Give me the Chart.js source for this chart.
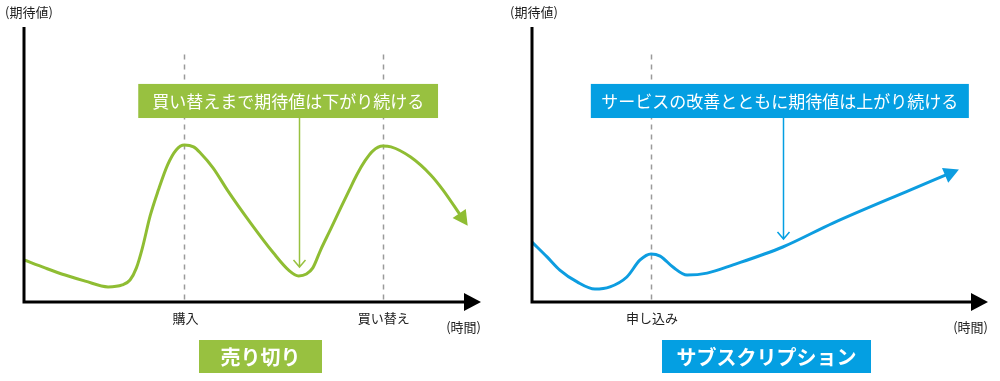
<!DOCTYPE html>
<html><head><meta charset="utf-8">
<script src="https://cdn.jsdelivr.net/npm/chart.js@4"></script>
<style>
html,body{margin:0;padding:0;background:#fff;width:1000px;height:381px;overflow:hidden}
.w{position:absolute;top:0;width:500px;height:381px}
</style></head><body>
<div class="w" style="left:0"><canvas id="c1" width="500" height="381"></canvas></div>
<div class="w" style="left:500px"><canvas id="c2" width="500" height="381"></canvas></div>
<script>
// 売り切り (left) curve
const sellX = [0, 4.6, 9.0, 13.4, 18.4, 21.5, 23.2, 24.6, 25.9, 27.6, 29.4, 31.4, 33.3, 35.1, 37.1, 38.6, 41.4, 44.5, 49.6, 54.6, 57.9, 60.1, 61.8, 63.2, 64.9, 67.1, 69.3, 71.1, 72.8, 74.6, 76.3, 78.5, 80.3, 84.6, 89.0, 91.7, 95.6];
const sellY = [15.3, 12.4, 9.8, 7.6, 5.5, 6.2, 8.0, 12.4, 19.6, 31.3, 40.7, 49.8, 55.3, 57.1, 56.4, 54.2, 48.7, 40.7, 28.7, 17.8, 11.6, 9.5, 10.2, 12.4, 18.9, 26.5, 34.2, 40.4, 46.2, 51.3, 54.9, 56.7, 56.4, 52.7, 46.2, 40.7, 31.3];
const sellTicks = [35.1, 78.5];
const sellTickLabels = ['購入', '買い替え'];
// サブスクリプション (right) curve
const subX = [0, 3.3, 6.1, 9.9, 13.8, 17.1, 20.8, 23.7, 26.1, 28.1, 30.9, 34.0, 38.4, 44.1, 55.0, 66.0, 82.9, 91.2];
const subY = [21.8, 16.4, 11.6, 7.3, 4.7, 5.5, 9.1, 15.3, 17.5, 16.7, 12.7, 9.8, 10.5, 13.5, 20.0, 28.7, 40.7, 46.5];
const subTicks = [26.1];
const subTickLabels = ['申し込み'];

const FONT = "'Noto Sans CJK JP', 'Noto Sans', sans-serif";

function decor(cfg) {
  return {
    id: 'decor',
    beforeDatasetsDraw(chart) {
      const {ctx, chartArea: a, scales: {x, y}} = chart;
      ctx.save();
      ctx.strokeStyle = '#9a9a9a';
      ctx.lineWidth = 1.5;
      ctx.setLineDash([5, 5]);
      cfg.ticks.forEach(t => {
        const px = Math.round(x.getPixelForValue(t)) + 0.5;
        ctx.beginPath();
        ctx.moveTo(px, y.getPixelForValue(90));
        ctx.lineTo(px, a.bottom);
        ctx.stroke();
      });
      ctx.restore();
    },
    afterDatasetsDraw(chart) {
      const {ctx, chartArea: a, scales: {x, y}} = chart;
      ctx.save();
      // arrowhead at curve end
      const pts = chart.getDatasetMeta(0).data;
      const p1 = pts[pts.length - 2], p2 = pts[pts.length - 1];
      let dx = p2.x - p1.x, dy = p2.y - p1.y;
      const L = Math.hypot(dx, dy); dx /= L; dy /= L;
      const tipX = p2.x + dx * 12, tipY = p2.y + dy * 12;
      const bx = p2.x - dx * 3, by = p2.y - dy * 3;
      ctx.fillStyle = cfg.color;
      ctx.beginPath();
      ctx.moveTo(tipX, tipY);
      ctx.lineTo(bx - dy * 8, by + dx * 8);
      ctx.lineTo(bx + dy * 8, by - dx * 8);
      ctx.closePath();
      ctx.fill();

      // axes
      ctx.strokeStyle = '#000';
      ctx.lineWidth = 3;
      ctx.beginPath();
      ctx.moveTo(a.left, a.top);
      ctx.lineTo(a.left, a.bottom);
      ctx.lineTo(a.right - 16, a.bottom);
      ctx.stroke();
      ctx.fillStyle = '#000';
      ctx.beginPath();
      ctx.moveTo(a.right - 17, a.bottom - 9);
      ctx.lineTo(a.right, a.bottom);
      ctx.lineTo(a.right - 17, a.bottom + 9);
      ctx.closePath();
      ctx.fill();

      // axis labels
      ctx.fillStyle = '#222';
      ctx.font = '13px ' + FONT;
      ctx.textBaseline = 'middle';
      ctx.textAlign = 'left';
      ctx.fillText('(期待値)', a.left - cfg.yLabelOff, 12);
      ctx.textAlign = 'right';
      ctx.fillText('(時間)', a.right, 327);
      ctx.textAlign = 'center';
      cfg.ticks.forEach((t, i) => {
        ctx.fillText(cfg.tickLabels[i], x.getPixelForValue(t) + 1, 318);
      });

      // callout box
      const c = cfg.callout;
      const x1 = x.getPixelForValue(c.x1), x2 = x.getPixelForValue(c.x2);
      const y1 = y.getPixelForValue(c.yTop), y2 = y.getPixelForValue(c.yBottom);
      ctx.fillStyle = cfg.boxColor;
      ctx.fillRect(x1, y1, x2 - x1, y2 - y1);
      ctx.fillStyle = '#fff';
      ctx.font = '17px ' + FONT;
      ctx.textAlign = 'center';
      ctx.fillText(c.text, (x1 + x2) / 2, (y1 + y2) / 2 + 1);
      // callout arrow
      const ax = Math.round(x.getPixelForValue(c.arrowX)) + 0.5, ay = y.getPixelForValue(c.arrowY);
      ctx.strokeStyle = cfg.boxColor;
      ctx.lineWidth = 1.5;
      ctx.beginPath();
      ctx.moveTo(ax, y2);
      ctx.lineTo(ax, ay);
      ctx.moveTo(ax - 6, ay - 7);
      ctx.lineTo(ax, ay);
      ctx.lineTo(ax + 6, ay - 7);
      ctx.stroke();

      // title box
      const t = cfg.title;
      ctx.fillStyle = cfg.boxColor;
      ctx.fillRect(t.cx - t.w / 2, 340, t.w, 33);
      ctx.fillStyle = '#fff';
      ctx.font = 'bold 20px ' + FONT;
      ctx.fillText(t.text, t.cx, 357);
      ctx.restore();
    }
  };
}

function makeChart(id, cfg) {
  return new Chart(document.getElementById(id), {
    type: 'line',
    data: {datasets: [{
      data: cfg.xs.map((v, i) => ({x: v, y: cfg.ys[i]})),
      borderColor: cfg.color, borderWidth: 3, pointRadius: 0,
      cubicInterpolationMode: 'monotone', fill: false, borderCapStyle: 'round', borderJoinStyle: 'round'
    }]},
    options: {
      responsive: false, animation: false, devicePixelRatio: 1, events: [],
      layout: {padding: {left: cfg.padL, right: cfg.padR, top: 27, bottom: 79}},
      scales: {
        x: {type: 'linear', min: 0, max: 100, display: false},
        y: {type: 'linear', min: 0, max: 100, display: false}
      },
      plugins: {legend: {display: false}, tooltip: {enabled: false}}
    },
    plugins: [decor(cfg)]
  });
}

makeChart('c1', {
  xs: sellX, ys: sellY, color: '#8fbd33', boxColor: '#98c140',
  padL: 24, padR: 19, yLabelOff: 19,
  ticks: sellTicks, tickLabels: sellTickLabels,
  callout: {x1: 25.0, x2: 90.6, yTop: 79.3, yBottom: 66.9, text: '買い替えまで期待値は下がり続ける', arrowX: 60.1, arrowY: 12.7},
  title: {cx: 260.5, w: 123, text: '売り切り'}
});
makeChart('c2', {
  xs: subX, ys: subY, color: '#0d9de0', boxColor: '#049fe2',
  padL: 32, padR: 12, yLabelOff: 22,
  ticks: subTicks, tickLabels: subTickLabels,
  callout: {x1: 12.9, x2: 95.8, yTop: 79.3, yBottom: 66.9, text: 'サービスの改善とともに期待値は上がり続ける', arrowX: 55.0, arrowY: 22.9},
  title: {cx: 266.5, w: 209, text: 'サブスクリプション'}
});
</script>
</body></html>
